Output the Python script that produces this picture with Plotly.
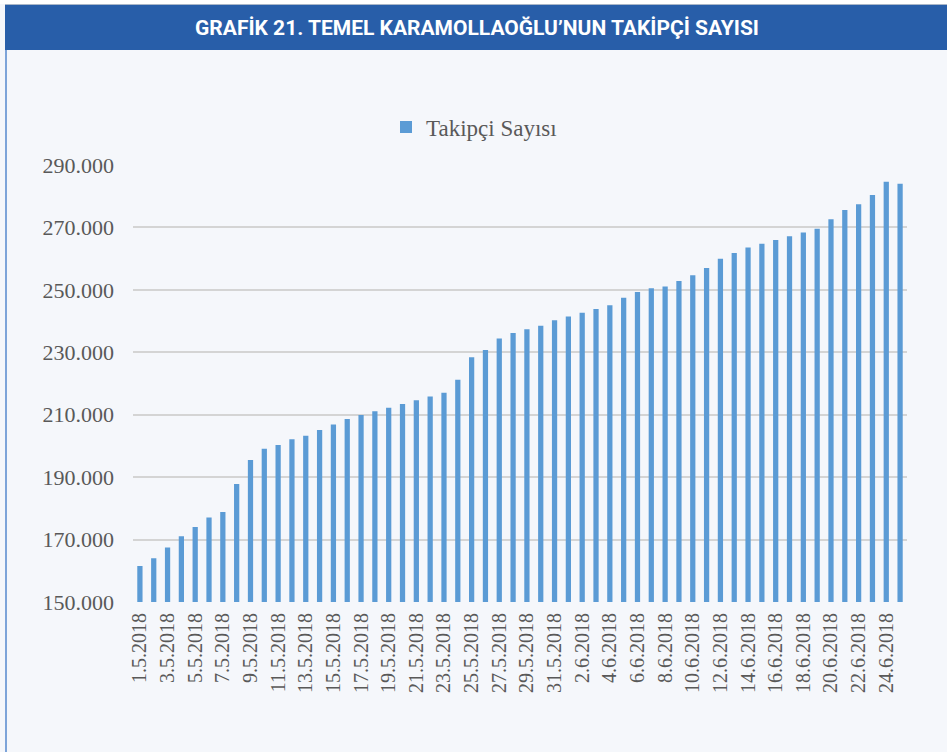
import plotly.graph_objects as go

dates = [
    "1.5.2018", "2.5.2018", "3.5.2018", "4.5.2018", "5.5.2018", "6.5.2018", "7.5.2018",
    "8.5.2018", "9.5.2018", "10.5.2018", "11.5.2018", "12.5.2018", "13.5.2018", "14.5.2018",
    "15.5.2018", "16.5.2018", "17.5.2018", "18.5.2018", "19.5.2018", "20.5.2018", "21.5.2018",
    "22.5.2018", "23.5.2018", "24.5.2018", "25.5.2018", "26.5.2018", "27.5.2018", "28.5.2018",
    "29.5.2018", "30.5.2018", "31.5.2018", "1.6.2018", "2.6.2018", "3.6.2018", "4.6.2018",
    "5.6.2018", "6.6.2018", "7.6.2018", "8.6.2018", "9.6.2018", "10.6.2018", "11.6.2018",
    "12.6.2018", "13.6.2018", "14.6.2018", "15.6.2018", "16.6.2018", "17.6.2018", "18.6.2018",
    "19.6.2018", "20.6.2018", "21.6.2018", "22.6.2018", "23.6.2018", "24.6.2018", "25.6.2018",
]

followers = [
    161500, 164000, 167500, 171100, 174000, 177100, 178800, 187800, 195500, 199100,
    200300, 202100, 203300, 205100, 206900, 208600, 209900, 211100, 212200, 213400,
    214600, 215800, 217000, 221200, 228400, 230700, 234400, 236200, 237400, 238500,
    240300, 241500, 242700, 243900, 245100, 247500, 249300, 250500, 251100, 252800,
    254700, 257000, 260000, 261800, 263600, 264800, 266000, 267200, 268400, 269600,
    272600, 275600, 277400, 280400, 284600, 284000,
]

x_tick_labels = dates[::2]
y_ticks = [150000, 170000, 190000, 210000, 230000, 250000, 270000, 290000]

series_name = "Takipçi Sayısı"
title_text = "GRAFİK 21. TEMEL KARAMOLLAOĞLU’NUN TAKİPÇİ SAYISI"

W, H = 947, 752
L, R, T, B = 133, 40, 165, 150
pw, ph = W - L - R, H - T - B

def px(x):
    return (x - L) / pw

def py(y):
    return (H - B - y) / ph

fig = go.Figure()
fig.add_trace(go.Bar(
    x=dates, y=followers, name=series_name,
    marker=dict(color="#5b9bd5", line=dict(width=0)),
    showlegend=True,
))

fig.update_layout(
    width=W, height=H,
    margin=dict(l=L, r=R, t=T, b=B, pad=0),
    paper_bgcolor="#f5f7fb",
    plot_bgcolor="#f5f7fb",
    separators=",.",
    bargap=0.62,
    font=dict(family="Liberation Serif, Times New Roman, serif", color="#595959"),
    showlegend=True,
    legend=dict(
        orientation="h", x=px(474), xanchor="center", y=py(127), yanchor="middle",
        font=dict(size=23, color="#595959", family="Liberation Serif, serif"),
        bgcolor="rgba(0,0,0,0)", itemwidth=30,
    ),
    xaxis=dict(
        type="category", tickmode="array", tickvals=x_tick_labels, ticktext=x_tick_labels,
        tickangle=-90, tickfont=dict(size=20, color="#595959"),
        showgrid=False, showline=False, ticks="", ticklen=0, ticklabelstandoff=6,
        range=[-0.5, len(dates) - 0.5],
    ),
    yaxis=dict(
        range=[150000, 290000], tickvals=y_ticks, tickformat=",d",
        tickfont=dict(size=22, color="#595959"),
        showgrid=True, gridcolor="#d4d4d4", gridwidth=1.5,
        zeroline=False, showline=False, ticks="", ticklabelstandoff=18,
    ),
    shapes=[
        dict(type="rect", xref="paper", yref="paper", x0=px(-5), x1=px(960),
             y0=py(4), y1=py(-5), fillcolor="#ffffff", line=dict(width=0), layer="below"),
        dict(type="line", xref="paper", yref="paper", x0=px(5), x1=px(960),
             y0=py(4.5), y1=py(4.5), line=dict(color="#a9b6c8", width=1)),
        dict(type="rect", xref="paper", yref="paper", x0=px(5), x1=px(960),
             y0=py(50), y1=py(5), fillcolor="#285ea9", line=dict(width=0)),
        dict(type="line", xref="paper", yref="paper", x0=px(6), x1=px(6),
             y0=py(50), y1=py(760), line=dict(color="#7da4d9", width=2)),
    ],
    annotations=[
        dict(text="<b>" + title_text + "</b>", xref="paper", yref="paper",
             x=px(477), y=py(28), xanchor="center", yanchor="middle", showarrow=False,
             font=dict(family="Roboto, Open Sans, sans-serif", size=21, color="#ffffff")),
    ],
)

fig.write_html("out.html", config={"displayModeBar": False},
               post_script="document.body.style.margin='0';")
